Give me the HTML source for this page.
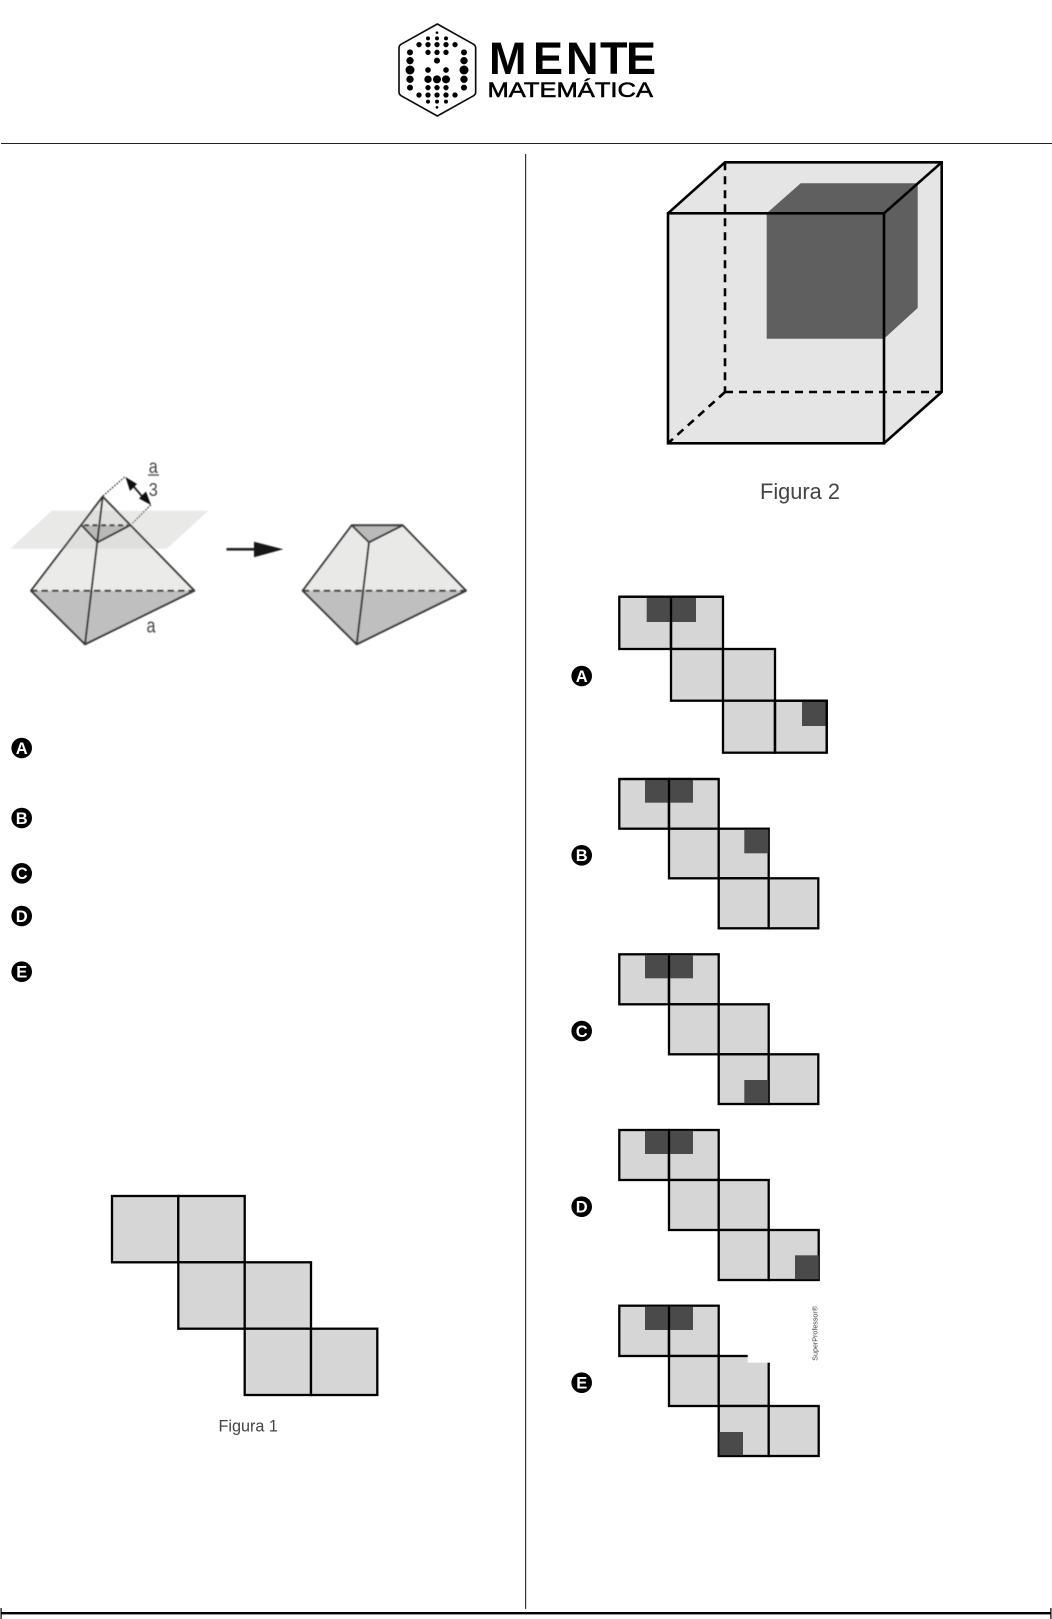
<!DOCTYPE html>
<html lang="pt">
<head>
<meta charset="utf-8">
<title>Mente Matemática</title>
<style>
html,body{margin:0;padding:0;background:#fff;width:1052px;height:1619px;overflow:hidden}
svg{display:block}
text{font-family:"Liberation Sans",sans-serif}
.b{font-weight:bold;fill:#fff;font-size:16.5px;text-anchor:middle}
.cell{fill:#d5d6d5;stroke:#000;stroke-width:2.3}
.dk{fill:#4a4a4a}
.fig{fill:#444}
</style>
</head>
<body>
<svg width="1052" height="1619" viewBox="0 0 1052 1619" xmlns="http://www.w3.org/2000/svg">
<defs>
<filter id="s" x="-5%" y="-5%" width="110%" height="110%"><feGaussianBlur stdDeviation="0.45"/></filter>
<filter id="t" x="-5%" y="-5%" width="110%" height="110%"><feGaussianBlur stdDeviation="0.25"/></filter>
</defs>
<rect width="1052" height="1619" fill="#fff"/>

<!-- logo -->
<g filter="url(#t)">
<g transform="translate(380,0) scale(.33333)">
<path d="M172 72 L281 133 Q287 137 287 144 L287 276 Q287 283 281 287 L172 348 L63 287 Q57 283 57 276 L57 144 Q57 137 63 133 Z" fill="none" stroke="#111" stroke-width="5" stroke-linejoin="round"/>
<g fill="#000">
<circle cx="171" cy="98" r="4"/>
<circle cx="144" cy="115" r="6"/><circle cx="171" cy="115" r="6"/><circle cx="198" cy="115" r="6"/>
<circle cx="117" cy="134" r="8"/><circle cx="144" cy="134" r="8"/><circle cx="171" cy="134" r="8"/><circle cx="198" cy="134" r="8"/><circle cx="225" cy="134" r="8"/>
<circle cx="90" cy="157" r="9"/><circle cx="144" cy="157" r="8"/><circle cx="171" cy="157" r="8"/><circle cx="198" cy="157" r="8"/><circle cx="252" cy="157" r="9"/>
<circle cx="90" cy="182" r="11"/><circle cx="171" cy="182" r="9"/><circle cx="252" cy="182" r="11"/>
<circle cx="90" cy="210" r="13.5"/><circle cx="144" cy="210" r="8.5"/><circle cx="198" cy="210" r="8.5"/><circle cx="252" cy="210" r="13.5"/>
<circle cx="90" cy="238" r="11"/><circle cx="144" cy="238" r="11"/><circle cx="171" cy="238" r="12"/><circle cx="198" cy="238" r="12"/><circle cx="252" cy="238" r="11"/>
<circle cx="90" cy="263" r="9"/><circle cx="144" cy="263" r="8"/><circle cx="171" cy="263" r="8"/><circle cx="198" cy="263" r="8"/><circle cx="252" cy="263" r="9"/>
<circle cx="117" cy="285" r="8"/><circle cx="144" cy="285" r="8"/><circle cx="171" cy="285" r="8"/><circle cx="198" cy="285" r="8"/><circle cx="225" cy="285" r="8"/>
<circle cx="144" cy="305" r="6"/><circle cx="171" cy="305" r="6"/><circle cx="198" cy="305" r="6"/>
<circle cx="171" cy="322" r="4"/>
</g>
</g>
<text font-size="45" font-weight="bold" fill="#000" transform="translate(489,74)" letter-spacing="0"><tspan x="0">M</tspan><tspan x="44">E</tspan><tspan x="77">N</tspan><tspan x="111">T</tspan><tspan x="137">E</tspan></text>
<text x="487.5" y="97" font-size="21" fill="#000" stroke="#000" stroke-width=".55" textLength="165.5" lengthAdjust="spacingAndGlyphs">MATEMÁTICA</text>
</g>

<!-- layout lines -->
<rect x="1" y="143" width="1051" height="1" fill="#222"/>
<rect x="525" y="154" width="1.2" height="1455" fill="#333"/>
<rect x="1" y="1612" width="1050" height="2.4" fill="#000"/>
<rect x="0.5" y="1608" width="1.2" height="11" fill="#000"/>
<rect x="1050.3" y="1608" width="1.2" height="11" fill="#000"/>

<!-- pyramids -->
<g filter="url(#s)">
<polygon points="51.7,510.7 208.3,510.7 166.7,548.7 10,548.7" fill="#e9e9e7"/>
<polygon points="102.7,496.7 194.3,590.7 31,590.7" fill="#ebebe9"/>
<polygon points="92,510.7 116.3,510.7 153.4,548.7 63,548.7" fill="#dfdfdd"/>
<polygon points="31,590.7 194.3,590.7 85,644.3" fill="#bfbfbf"/>
<polygon points="81.7,525.3 130,525.3 97.7,542.3" fill="#b9b9b8"/>
<g fill="none" stroke="#3a3a3a" stroke-width="2" stroke-linejoin="round">
<polygon points="102.7,496.7 194.3,590.7 85,644.3 31,590.7"/>
<line x1="102.7" y1="496.7" x2="85" y2="644.3"/>
<polyline points="81.7,525.3 97.7,542.3 130,525.3"/>
<line x1="31" y1="590.7" x2="194.3" y2="590.7" stroke-dasharray="6.5 4"/>
<line x1="84" y1="525.3" x2="128" y2="525.3" stroke-dasharray="5 3.5"/>
</g>
<g fill="none" stroke="#333" stroke-width="1.3" stroke-dasharray="1.6 1.4">
<polyline points="103,496 125,476.7"/>
<polyline points="150.7,505 131.7,524"/>
</g>
<line x1="129" y1="481" x2="146" y2="501" stroke="#222" stroke-width="1.8"/>
<polygon points="125.5,477 137,484 130,491" fill="#111"/>
<polygon points="151,505 139,498.5 146,491.5" fill="#111"/>
<text x="153.3" y="473" font-size="19" fill="#444" text-anchor="middle" textLength="9" lengthAdjust="spacingAndGlyphs">a</text>
<rect x="148" y="474.3" width="11" height="1.4" fill="#555"/>
<text x="153.3" y="496" font-size="18.5" fill="#444" text-anchor="middle" textLength="9" lengthAdjust="spacingAndGlyphs">3</text>
<text x="151" y="632.5" font-size="20" fill="#444" text-anchor="middle" textLength="9" lengthAdjust="spacingAndGlyphs">a</text>

<rect x="226.5" y="548" width="30" height="2.6" fill="#222"/>
<polygon points="254,541.7 283.3,549.3 254,557.3" fill="#151515"/>

<polygon points="351.7,525.3 402.7,525.3 466,590.7 302.7,590.7" fill="#e9e9e8"/>
<polygon points="302.7,590.7 466,590.7 356.7,644.3" fill="#bfbfbf"/>
<polygon points="351.7,525.3 402.7,525.3 369,542.3" fill="#bababa"/>
<g fill="none" stroke="#3a3a3a" stroke-width="2" stroke-linejoin="round">
<polygon points="351.7,525.3 402.7,525.3 466,590.7 356.7,644.3 302.7,590.7"/>
<polyline points="351.7,525.3 369,542.3 402.7,525.3"/>
<line x1="369" y1="542.3" x2="356.7" y2="644.3"/>
<line x1="302.7" y1="590.7" x2="466" y2="590.7" stroke-dasharray="6.5 4"/>
</g>
</g>

<!-- badges -->
<g fill="#000">
<circle cx="21.7" cy="748" r="10.3"/><circle cx="21.7" cy="818" r="10.3"/><circle cx="21.7" cy="873.3" r="10.3"/><circle cx="21.7" cy="916" r="10.3"/><circle cx="21.7" cy="971.7" r="10.3"/>
<circle cx="581.7" cy="676" r="10.3"/><circle cx="581.7" cy="855.3" r="10.3"/><circle cx="581.7" cy="1031" r="10.3"/><circle cx="581.7" cy="1206.7" r="10.3"/><circle cx="581.7" cy="1382.7" r="10.3"/>
</g>
<text class="b" x="21.7" y="753.8">A</text>
<text class="b" x="21.7" y="823.8">B</text>
<text class="b" x="21.7" y="879.1">C</text>
<text class="b" x="21.7" y="921.8">D</text>
<text class="b" x="21.7" y="977.5">E</text>
<text class="b" x="581.7" y="681.8">A</text>
<text class="b" x="581.7" y="861.1">B</text>
<text class="b" x="581.7" y="1036.8">C</text>
<text class="b" x="581.7" y="1212.5">D</text>
<text class="b" x="581.7" y="1388.5">E</text>

<!-- Figura 1 -->
<g>
<rect class="cell" x="112" y="1196" width="66.3" height="66.3"/>
<rect class="cell" x="178.3" y="1196" width="66.4" height="66.3"/>
<rect class="cell" x="178.3" y="1262.3" width="66.4" height="66.4"/>
<rect class="cell" x="244.7" y="1262.3" width="66.3" height="66.4"/>
<rect class="cell" x="244.7" y="1328.7" width="66.3" height="66.3"/>
<rect class="cell" x="311" y="1328.7" width="66.3" height="66.3"/>
</g>
<text class="fig" x="218.5" y="1431.7" font-size="16.2">Figura 1</text>

<!-- cube -->
<polygon points="668,213.3 725,162.3 941.7,162.3 941.7,392 884,443.3 668,443.3" fill="#e5e5e5"/>
<polygon points="766.7,213.3 800.7,183.3 917.7,183.3 917.7,308 884,338.7 766.7,338.7" fill="#5f5f5f"/>
<g fill="none" stroke="#000" stroke-width="2.6">
<rect x="668" y="213.3" width="216" height="230"/>
<polyline points="668,213.3 725,162.3 941.7,162.3 941.7,392 884,443.3"/>
<line x1="884" y1="213.3" x2="941.7" y2="162.3"/>
<g stroke-dasharray="8 6">
<line x1="725" y1="162.3" x2="725" y2="392"/>
<line x1="725" y1="392" x2="941.7" y2="392"/>
<line x1="725" y1="392" x2="668" y2="443.3"/>
</g>
</g>
<text class="fig" x="760" y="499" font-size="21.8">Figura 2</text>

<!-- Net A -->
<g>
<rect class="cell" x="619.3" y="596.7" width="51.7" height="52.3"/>
<rect class="cell" x="671" y="596.7" width="52" height="52.3"/>
<rect class="cell" x="671" y="649" width="52" height="51.7"/>
<rect class="cell" x="723" y="649" width="52" height="51.7"/>
<rect class="cell" x="723" y="700.7" width="52" height="52"/>
<rect class="cell" x="775" y="700.7" width="51.7" height="52"/>
<rect class="dk" x="646.7" y="597.5" width="49.3" height="24.5"/>
<rect class="dk" x="802" y="701.5" width="24" height="24.5"/>
<path d="M619.3 596.7H723M671 596.7V649M775 700.7H826.7V752.7M775 700.7V752.7" fill="none" stroke="#000" stroke-width="2.3"/>
</g>

<!-- Net B -->
<g>
<rect class="cell" x="619.3" y="779" width="49.7" height="49.7"/>
<rect class="cell" x="669" y="779" width="49.7" height="49.7"/>
<rect class="cell" x="669" y="828.7" width="49.7" height="49.6"/>
<rect class="cell" x="718.7" y="828.7" width="50" height="49.6"/>
<rect class="cell" x="718.7" y="878.3" width="50" height="50"/>
<rect class="cell" x="768.7" y="878.3" width="49.6" height="50"/>
<rect class="dk" x="645" y="779.8" width="48" height="22.9"/>
<rect class="dk" x="744.3" y="829.5" width="24" height="23.8"/>
<path d="M619.3 779H718.7M669 779V828.7" fill="none" stroke="#000" stroke-width="2.3"/>
</g>

<!-- Net C -->
<g>
<rect class="cell" x="619.3" y="954.3" width="49.7" height="50"/>
<rect class="cell" x="669" y="954.3" width="49.7" height="50"/>
<rect class="cell" x="669" y="1004.3" width="49.7" height="50"/>
<rect class="cell" x="718.7" y="1004.3" width="50" height="50"/>
<rect class="cell" x="718.7" y="1054.3" width="50" height="49.7"/>
<rect class="cell" x="768.7" y="1054.3" width="49.6" height="49.7"/>
<rect class="dk" x="645" y="955.1" width="48" height="23.2"/>
<rect class="dk" x="744.3" y="1080" width="24" height="23.2"/>
<path d="M669 954.3V1004.3" fill="none" stroke="#000" stroke-width="2.3"/>
</g>

<!-- Net D -->
<g>
<rect class="cell" x="619.3" y="1130" width="49.7" height="50"/>
<rect class="cell" x="669" y="1130" width="49.7" height="50"/>
<rect class="cell" x="669" y="1180" width="49.7" height="50"/>
<rect class="cell" x="718.7" y="1180" width="50" height="50"/>
<rect class="cell" x="718.7" y="1230" width="50" height="50"/>
<rect class="cell" x="768.7" y="1230" width="50" height="50"/>
<rect class="dk" x="645" y="1130.8" width="48" height="23.2"/>
<rect class="dk" x="795" y="1255.3" width="23.7" height="24"/>
<path d="M669 1130V1180" fill="none" stroke="#000" stroke-width="2.3"/>
</g>

<!-- Net E -->
<g>
<rect class="cell" x="619.3" y="1305.7" width="49.7" height="50.3"/>
<rect class="cell" x="669" y="1305.7" width="49.7" height="50.3"/>
<rect class="cell" x="669" y="1356" width="49.7" height="50"/>
<rect class="cell" x="718.7" y="1356" width="50" height="50"/>
<rect class="cell" x="718.7" y="1406" width="50" height="50"/>
<rect class="cell" x="768.7" y="1406" width="50" height="50"/>
<rect class="dk" x="645" y="1306.5" width="48" height="23.5"/>
<rect class="dk" x="719.5" y="1432" width="23.5" height="23.2"/>
<path d="M669 1305.7V1356" fill="none" stroke="#000" stroke-width="2.3"/>
<rect x="747.7" y="1354.5" width="23" height="8.2" fill="#fff"/>
</g>
<text x="0" y="0" font-size="7.1" fill="#444" text-anchor="start" transform="translate(817.5,1360.7) rotate(-90)" textLength="54.7" lengthAdjust="spacingAndGlyphs">SuperProfessor®</text>
</svg>
</body>
</html>
